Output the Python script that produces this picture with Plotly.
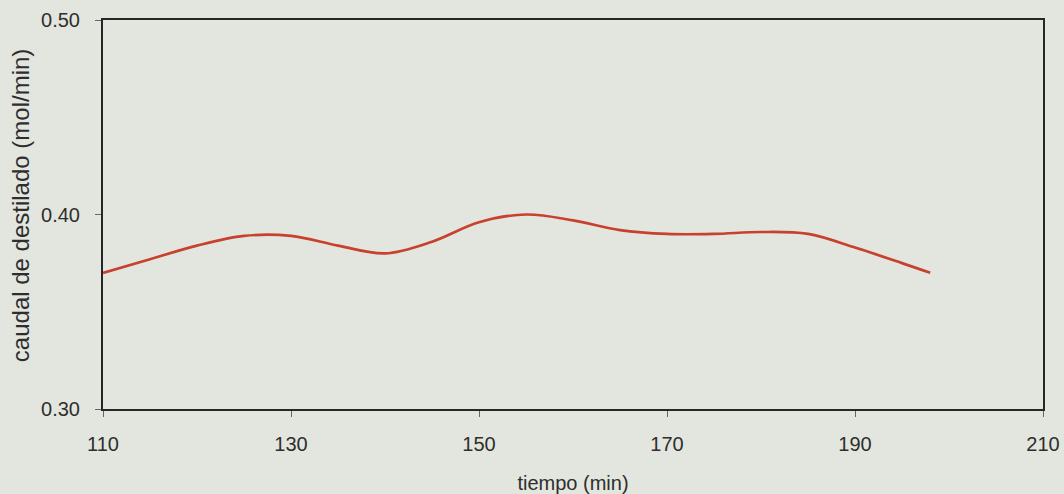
import plotly.graph_objects as go

# Distillate flow over time
tiempo = [110, 115, 120, 125, 130, 135, 140, 145, 150, 155, 160, 165, 170, 175, 180, 185, 190, 195, 198]
caudal = [0.370, 0.377, 0.384, 0.389, 0.389, 0.384, 0.380, 0.386, 0.396, 0.400, 0.397, 0.392,
          0.390, 0.390, 0.391, 0.390, 0.383, 0.375, 0.370]

x_ticks = [110, 130, 150, 170, 190, 210]
y_ticks = [0.30, 0.40, 0.50]

paper = "#e3e6df"
ink = "#262626"
text_color = "#2e2e2e"
font_family = "Liberation Sans, Arial, sans-serif"

fig = go.Figure()
fig.add_trace(go.Scatter(
    x=tiempo, y=caudal, mode="lines",
    line=dict(color="#c8412f", width=2.7, shape="spline", smoothing=1.0),
    hoverinfo="skip", showlegend=False,
))

fig.update_layout(
    width=1064, height=494,
    margin=dict(l=103, r=21, t=20, b=85),
    paper_bgcolor=paper, plot_bgcolor=paper,
    font=dict(family=font_family, size=20, color=text_color),
)

fig.update_xaxes(
    range=[110, 210], tickvals=x_ticks, ticktext=[str(v) for v in x_ticks],
    showgrid=False, zeroline=False, automargin=False,
    showline=True, linecolor=ink, linewidth=2, mirror=True,
    ticks="outside", ticklen=6, tickcolor="#666", tickwidth=1,
    ticklabelstandoff=10,
    title=dict(text="tiempo (min)", font=dict(size=20), standoff=22),
)
fig.update_yaxes(
    range=[0.30, 0.50], tickvals=y_ticks, tickformat=".2f",
    showgrid=False, zeroline=False, automargin=False,
    showline=True, linecolor=ink, linewidth=2, mirror=True,
    ticks="outside", ticklen=6, tickcolor="#666", tickwidth=1,
    ticklabelstandoff=11,
)

# Vertical axis title, placed by hand to sit left of the tick labels
fig.add_annotation(
    text="caudal de destilado (mol/min)", textangle=-90,
    xref="paper", yref="paper", x=-0.0883, y=0.524,
    xanchor="center", yanchor="middle", showarrow=False,
    font=dict(size=24, family=font_family, color=text_color),
)

fig.write_html("out.html")
